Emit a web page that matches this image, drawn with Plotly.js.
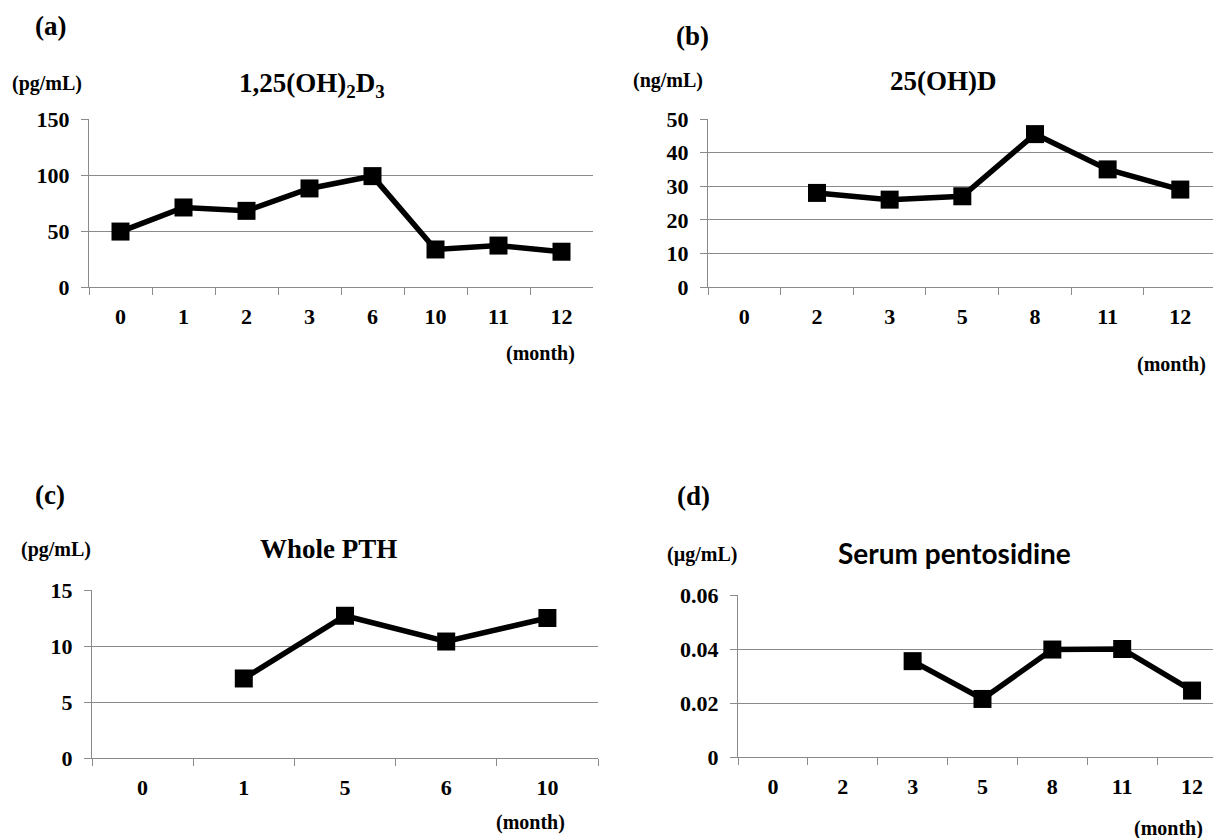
<!DOCTYPE html>
<html><head><meta charset="utf-8">
<script src="https://cdn.plot.ly/plotly-3.0.1.min.js"></script>
<style>body{margin:0;background:#fff}#c{width:1213px;height:838px}</style>
</head><body><div id="c"></div>
<script>
// Data
const monthsA = ['0','1','2','3','6','10','11','12'];
const valuesA = [49.5, 71, 68, 88, 99, 33.5, 37, 31.5];
const monthsB = ['0','2','3','5','8','11','12'];
const valuesB = [null, 28, 26, 27, 45.5, 35, 29];
const monthsC = ['0','1','5','6','10'];
const valuesC = [null, 7.1, 12.7, 10.4, 12.5];
const monthsD = ['0','2','3','5','8','11','12'];
const valuesD = [null, null, 0.0355, 0.0215, 0.0398, 0.0400, 0.0246];

const W = 1213, H = 838;
const px = x => x / W, py = y => 1 - y / H;
const serif = 'Liberation Serif, Times New Roman, serif';
const grid = '#8a8a8a';

function trace(x, y, xa, ya) {
  return {x, y, xaxis: xa, yaxis: ya, type: 'scatter', mode: 'lines+markers',
    line: {color: '#000', width: 5.5}, marker: {symbol: 'square', size: 18, color: '#000'},
    cliponaxis: false, connectgaps: false, hoverinfo: 'x+y', showlegend: false};
}
function xax(domain, n, range, anchor) {
  return {domain, anchor, type: 'category', range: range || [-0.5, n - 0.5],
    tickson: 'boundaries', ticks: 'outside', ticklen: 7, tickcolor: grid, tickwidth: 1,
    showline: true, linecolor: grid, linewidth: 1, showgrid: false, zeroline: false,
    tickfont: {family: serif, size: 22, color: '#000', weight: 'bold'}, ticklabelstandoff: 10,
    fixedrange: true};
}
function yax(domain, range, dtick, anchor) {
  return {domain, anchor, range, dtick, ticks: 'outside', ticklen: 7, tickcolor: grid,
    showline: true, linecolor: grid, linewidth: 1, showgrid: true, gridcolor: grid, gridwidth: 1,
    zeroline: false, tickfont: {family: serif, size: 22, color: '#000', weight: 'bold'},
    ticklabelstandoff: 7, fixedrange: true};
}

const data = [
  trace(monthsA, valuesA, 'x', 'y'),
  trace(monthsB, valuesB, 'x2', 'y2'),
  trace(monthsC, valuesC, 'x3', 'y3'),
  trace(monthsD, valuesD, 'x4', 'y4')
];

function ann(text, x, y, size, opts) {
  return Object.assign({text, x: px(x), y: py(y), xref: 'paper', yref: 'paper', showarrow: false,
    xanchor: 'center', yanchor: 'middle',
    font: {family: serif, size, color: '#000', weight: 'bold'}}, opts || {});
}

const layout = {
  width: W, height: H, paper_bgcolor: '#fff', plot_bgcolor: 'rgba(0,0,0,0)',
  margin: {l: 0, r: 0, t: 0, b: 0}, showlegend: false,
  xaxis: xax([px(89), px(593)], monthsA.length, null, 'y'),
  yaxis: yax([py(287), py(119)], [0, 150], 50, 'x'),
  xaxis2: xax([px(708), 1], monthsB.length, [-0.5, 6.45], 'y2'),
  yaxis2: yax([py(287), py(119)], [0, 50], 10, 'x2'),
  xaxis3: xax([px(92), px(598)], monthsC.length, null, 'y3'),
  yaxis3: yax([py(758), py(590)], [0, 15], 5, 'x3'),
  xaxis4: xax([px(738), 1], monthsD.length, [-0.5, 6.3], 'y4'),
  yaxis4: yax([py(757), py(595)], [0, 0.06], 0.02, 'x4'),
  annotations: [
    ann('(a)', 50, 26, 27),
    ann('(pg/mL)', 47, 83, 20),
    ann('1,25(OH)<sub>2</sub>D<sub>3</sub>', 312, 85, 27),
    ann('(month)', 540, 353, 20),
    ann('(b)', 692, 36, 27),
    ann('(ng/mL)', 668, 81, 20),
    ann('25(OH)D', 943, 81, 27),
    ann('(month)', 1171, 364, 20),
    ann('(c)', 50, 495, 27),
    ann('(pg/mL)', 56, 549, 20),
    ann('Whole PTH', 328, 549, 27),
    ann('(month)', 530, 822, 20),
    ann('(d)', 694, 496, 27),
    ann('(µg/mL)', 702, 554, 20),
    ann('Serum pentosidine', 954, 553, 28, {font: {family: 'Lato, Open Sans, sans-serif', size: 28, color: '#000', weight: 'bold'}}),
    ann('(month)', 1168, 828, 20)
  ]
};

Plotly.newPlot('c', data, layout, {staticPlot: true, displayModeBar: false});
</script>
</body></html>
